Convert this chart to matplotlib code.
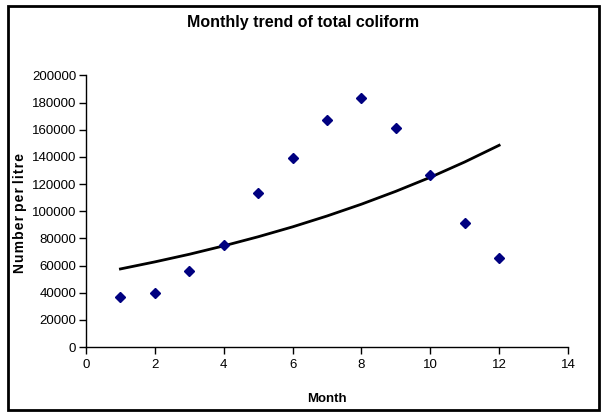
import matplotlib
matplotlib.use("Agg")
import matplotlib.pyplot as plt
from matplotlib.patches import Rectangle

plt.rcParams['font.family'] = ['Liberation Sans', 'DejaVu Sans']

# values
months = [1, 2, 3, 4, 5, 6, 7, 8, 9, 10, 11, 12]
coliform = [37000, 39500, 56000, 75000, 113500, 139300,
            167000, 183500, 161400, 126500, 91400, 65600]
# trend line (Excel exponential trendline), read at each month
trend = [57500, 62700, 68300, 74500, 81200, 88500,
         96500, 105200, 114700, 125000, 136300, 148600]

fig = plt.figure(figsize=(6.01, 4.12), dpi=100)
ax = fig.add_axes([86/601, 1 - 347/412, (568 - 86)/601, (347 - 75.5)/412])

ax.plot(months, trend, color='black', lw=2, zorder=2)
ax.plot(months, coliform, ls='none', marker='D', ms=5, color='#000080',
        mec='#000080', zorder=3)

ax.set_xlim(0, 14)
ax.set_ylim(0, 200000)
ax.set_xticks(range(0, 15, 2))
ax.set_yticks(range(0, 200001, 20000))
ax.spines['top'].set_visible(False)
ax.spines['right'].set_visible(False)
for s in ('left', 'bottom'):
    ax.spines[s].set_linewidth(1)
    ax.spines[s].set_color('black')
ax.tick_params(axis='both', direction='out', length=5, width=1,
               labelsize=9.5, colors='black')
ax.tick_params(axis='x', pad=4)
ax.tick_params(axis='y', pad=2)

fig.text(303/601, 1 - 23/412, "Monthly trend of total coliform",
         ha='center', va='center', fontsize=11.5, fontweight='bold')
fig.text(327/601, 1 - 399/412, "Month", ha='center', va='center',
         fontsize=9.5, fontweight='bold')
fig.text(20/601, 1 - 213/412, "N u m b e r  p e r  l i t r e".replace(' ', '\u200a').replace('\u200a\u200a', ' '),
         ha='center', va='center', rotation=90, fontsize=10, fontweight='bold')

fig.patches.append(Rectangle((8/601, 2/412), 591/601, 404/412,
                             transform=fig.transFigure, fill=False,
                             ec='black', lw=2))

fig.savefig("out.png", dpi=100)
